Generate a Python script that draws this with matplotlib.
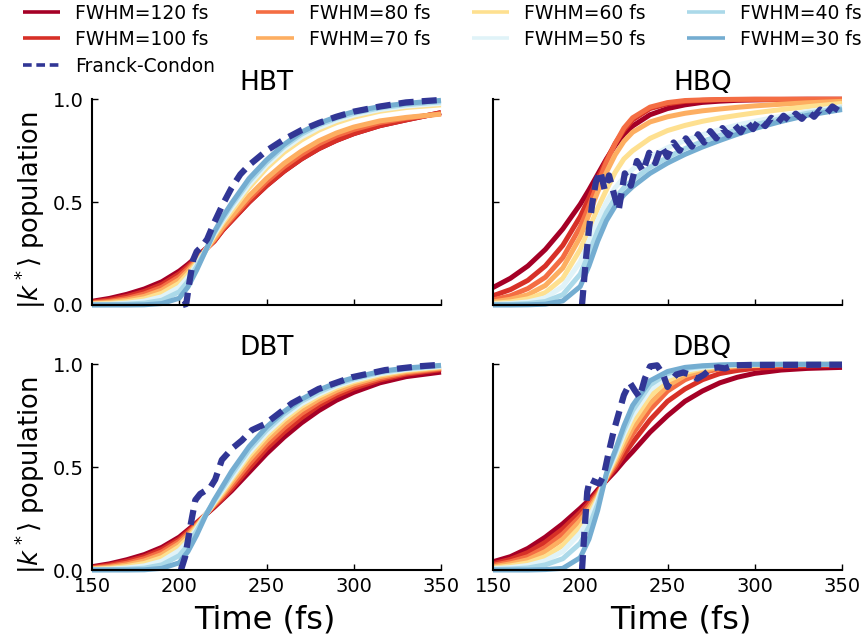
import matplotlib
matplotlib.use("Agg")
import matplotlib.pyplot as plt

# time grid (fs) shared by the FWHM curves
t = [150, 160, 170, 180, 190, 200, 205, 210, 215, 220, 225, 230,
     240, 250, 260, 270, 280, 290, 300, 315, 330, 350]

# ---- HBT ----
hbt_120 = [.018, .032, .052, .078, .113, .165, .198, .235, .272, .31, .365, .41, .5, .58, .65, .71, .76, .8, .833, .872, .9, .935]
hbt_100 = [.014, .025, .042, .066, .1, .152, .188, .227, .27, .31, .365, .41, .5, .58, .65, .71, .76, .8, .833, .872, .9, .935]
hbt_80 = [.01, .018, .032, .054, .086, .138, .177, .22, .268, .315, .372, .42, .515, .6, .672, .732, .783, .823, .853, .887, .908, .93]
hbt_70 = [.007, .013, .024, .042, .072, .123, .165, .213, .266, .32, .38, .43, .53, .615, .688, .748, .798, .836, .865, .895, .912, .928]
hbt_60 = [.005, .008, .016, .03, .057, .106, .151, .205, .265, .335, .4, .455, .57, .665, .742, .802, .85, .886, .913, .942, .96, .973]
hbt_50 = [.003, .004, .009, .019, .04, .087, .135, .197, .264, .343, .41, .47, .585, .68, .757, .817, .862, .897, .923, .95, .967, .98]
hbt_40 = [.001, .002, .004, .009, .023, .064, .115, .187, .263, .35, .42, .485, .6, .693, .77, .83, .875, .907, .932, .958, .974, .988]
hbt_30 = [0, 0, 0, .001, .007, .033, .088, .17, .262, .355, .43, .495, .615, .705, .78, .84, .883, .915, .94, .965, .98, .995]

# ---- HBQ ----
hbq_120 = [.085, .13, .19, .27, .37, .49, .56, .635, .71, .775, .83, .87, .925, .955, .973, .985, .991, .995, .997, .999, 1.0, 1.0]
hbq_100 = [.045, .075, .12, .19, .29, .43, .52, .615, .705, .785, .85, .9, .955, .978, .99, .995, .998, .999, 1.0, 1.0, 1.0, 1.0]
hbq_80 = [.025, .045, .08, .135, .23, .38, .48, .59, .695, .785, .86, .91, .962, .984, .994, .997, .999, 1.0, 1.0, 1.0, 1.0, 1.0]
hbq_70 = [.015, .028, .05, .095, .18, .33, .44, .55, .645, .73, .795, .84, .89, .915, .932, .944, .953, .961, .968, .976, .983, .99]
hbq_60 = [.008, .015, .03, .06, .13, .27, .37, .47, .56, .645, .71, .75, .81, .848, .873, .893, .909, .922, .934, .95, .964, .98]
hbq_50 = [.004, .007, .015, .035, .09, .21, .31, .41, .5, .57, .62, .66, .72, .765, .8, .828, .853, .875, .893, .918, .94, .965]
hbq_40 = [.002, .003, .007, .017, .05, .15, .25, .36, .45, .52, .57, .607, .67, .718, .76, .795, .825, .852, .876, .906, .932, .958]
hbq_30 = [0, 0, .001, .004, .02, .09, .19, .31, .41, .48, .535, .575, .64, .69, .732, .768, .8, .83, .858, .892, .922, .95]

# ---- DBT ----
dbt_120 = [.016, .03, .05, .075, .11, .16, .195, .23, .268, .305, .345, .385, .475, .565, .645, .715, .775, .825, .864, .91, .94, .962]
dbt_100 = [.012, .024, .042, .065, .1, .15, .187, .225, .268, .31, .35, .395, .495, .59, .67, .74, .8, .847, .883, .924, .952, .974]
dbt_80 = [.009, .018, .033, .055, .088, .14, .178, .22, .268, .315, .36, .41, .515, .61, .69, .76, .815, .86, .895, .932, .958, .979]
dbt_70 = [.006, .013, .025, .044, .075, .128, .168, .215, .268, .32, .37, .425, .535, .63, .71, .778, .83, .872, .905, .94, .964, .983]
dbt_60 = [.004, .008, .017, .032, .06, .113, .155, .208, .268, .325, .38, .44, .555, .65, .73, .795, .845, .885, .915, .948, .97, .987]
dbt_50 = [.002, .004, .01, .02, .043, .095, .14, .2, .267, .33, .39, .45, .57, .665, .743, .808, .855, .894, .922, .954, .974, .99]
dbt_40 = [.001, .002, .004, .009, .025, .07, .12, .19, .266, .335, .4, .465, .585, .68, .757, .82, .865, .902, .929, .96, .978, .993]
dbt_30 = [0, 0, 0, .001, .008, .035, .09, .17, .262, .34, .41, .48, .6, .695, .77, .83, .875, .91, .935, .965, .982, .995]

# ---- DBQ ----
dbq_120 = [.04, .065, .105, .16, .225, .3, .34, .39, .435, .48, .53, .575, .67, .75, .82, .87, .91, .937, .956, .972, .98, .985]
dbq_100 = [.03, .052, .085, .135, .2, .28, .325, .38, .44, .495, .56, .62, .73, .82, .88, .925, .955, .97, .98, .988, .992, .995]
dbq_80 = [.022, .04, .065, .11, .175, .26, .31, .37, .445, .51, .59, .66, .78, .87, .925, .96, .978, .988, .993, .997, .998, .999]
dbq_70 = [.015, .03, .05, .09, .15, .24, .295, .36, .45, .525, .61, .69, .81, .895, .945, .97, .985, .992, .995, .998, .999, 1.0]
dbq_60 = [.01, .02, .035, .065, .12, .21, .275, .35, .455, .54, .635, .72, .845, .92, .96, .98, .99, .995, .997, .999, 1.0, 1.0]
dbq_50 = [.006, .012, .022, .045, .09, .18, .25, .34, .46, .555, .66, .75, .875, .94, .97, .985, .993, .997, .998, .999, 1.0, 1.0]
dbq_40 = [.003, .005, .01, .025, .055, .13, .21, .32, .465, .57, .68, .775, .9, .955, .98, .99, .995, .998, .999, 1.0, 1.0, 1.0]
dbq_30 = [0, 0, 0, .002, .008, .06, .15, .29, .47, .58, .7, .8, .92, .965, .985, .993, .997, .999, 1.0, 1.0, 1.0, 1.0]

# ---- Franck-Condon ----
t_fc_hbt = [202, 204, 206, 208, 210, 213, 216, 220, 225, 230, 235, 240, 250, 260, 270, 280, 290, 300, 315, 330, 350]
fc_hbt = [0, .005, .12, .22, .26, .285, .32, .4, .49, .57, .635, .68, .75, .805, .85, .885, .915, .94, .965, .985, .997]

t_fc_hbq = [201, 203, 205, 207, 209, 211.5, 214, 216.5, 219, 222, 225.5, 229, 232.5, 236,
            239.5, 243, 246.5, 250, 253.5, 257, 260.5, 264, 267.5, 271, 274.5, 278, 281.5, 285,
            288.5, 292, 295.5, 299, 302.5, 306, 309.5, 313, 316.5, 320, 323.5, 327, 330.5, 334,
            337.5, 341, 344.5, 348, 350]
fc_hbq = [0, .2, .37, .5, .6, .65, .56, .63, .55, .46, .64, .58, .7, .65,
          .74, .69, .77, .72, .79, .75, .81, .77, .83, .79, .845, .81, .86, .825,
          .875, .84, .89, .855, .9, .87, .91, .885, .92, .895, .93, .905, .94, .915,
          .95, .93, .965, .945, .955]

t_fc_dbt = [201, 203.4, 206.3, 209.2, 212, 217.7, 220.6, 224.4, 230.2, 235.9, 241.6,
            249.2, 256.9, 264.5, 279.8, 298.9, 318, 337, 350]
fc_dbt = [0, .065, .21, .34, .37, .4, .44, .535, .59, .63, .68, .71, .76, .81, .88, .937, .972, .99, .998]

t_fc_dbq = [201, 202.5, 204, 205.5, 208, 211, 213.5, 216, 219, 222, 225, 228.5, 231.5,
            234, 237, 240, 244, 247.5, 250, 252, 255, 259, 263, 267, 271, 275, 279, 283, 288, 300, 350]
fc_dbq = [0, .2, .38, .44, .43, .42, .46, .56, .67, .76, .85, .91, .87, .84, .93, .99, .995,
          .95, .89, .92, .95, .96, .95, .93, .95, .98, .985, .98, .995, .997, .998]

fwhm = [120, 100, 80, 70, 60, 50, 40, 30]
colors = ['#a50026', '#d73027', '#f46d43', '#fdae61', '#fee090', '#e0f3f8', '#abd9e9', '#74add1']
fc_color = '#313695'

panels = [
    ("HBT", [hbt_120, hbt_100, hbt_80, hbt_70, hbt_60, hbt_50, hbt_40, hbt_30], t_fc_hbt, fc_hbt),
    ("HBQ", [hbq_120, hbq_100, hbq_80, hbq_70, hbq_60, hbq_50, hbq_40, hbq_30], t_fc_hbq, fc_hbq),
    ("DBT", [dbt_120, dbt_100, dbt_80, dbt_70, dbt_60, dbt_50, dbt_40, dbt_30], t_fc_dbt, fc_dbt),
    ("DBQ", [dbq_120, dbq_100, dbq_80, dbq_70, dbq_60, dbq_50, dbq_40, dbq_30], t_fc_dbq, fc_dbq),
]

fig = plt.figure(figsize=(8.67, 6.42), dpi=100)
W, H = 867.0, 642.0
boxes = [(92, 99.3, 441, 305), (493, 99.3, 842, 305),
         (92, 364.3, 441, 570), (493, 364.3, 842, 570)]

for i, (name, curves, tfc, vfc) in enumerate(panels):
    x0, y0, x1, y1 = boxes[i]
    ax = fig.add_axes([x0 / W, 1 - y1 / H, (x1 - x0) / W, (y1 - y0) / H])
    lines = []
    for w, c, y in zip(fwhm, colors, curves):
        ln, = ax.plot(t, y, color=c, lw=3.6, solid_capstyle='butt',
                      clip_on=False, label="FWHM=%d fs" % w)
        lines.append(ln)
    fcl, = ax.plot(tfc, vfc, color=fc_color, lw=4.5, ls='--', dashes=(2.4, 1.3),
                   clip_on=False, label="Franck-Condon")
    ax.set_xlim(150, 350)
    ax.set_ylim(0, 1.0)
    ax.set_xticks([150, 200, 250, 300, 350])
    ax.set_yticks([0, 0.5, 1.0])
    ax.set_yticklabels(["0.0", "0.5", "1.0"])
    for s in ['top', 'right']:
        ax.spines[s].set_visible(False)
    for s in ['left', 'bottom']:
        ax.spines[s].set_linewidth(1.5)
    ax.tick_params(direction='in', length=4, width=1, labelsize=14)
    ax.tick_params(axis='x', pad=5)
    ax.tick_params(axis='y', pad=6)
    tx = 0.5 if i % 2 == 0 else 0.6
    ax.set_title(name, fontsize=19, x=tx, pad=7)
    if i < 2:
        ax.tick_params(labelbottom=False)
    else:
        lx = 0.496 if i == 2 else 0.539
        ax.set_xlabel("Time (fs)", fontsize=23, labelpad=6, x=lx)
    if i % 2 == 1:
        ax.tick_params(labelleft=False)
    else:
        ax.set_ylabel(r"$|k^*\rangle$ population", fontsize=18.5, labelpad=3, y=0.46)
    if i == 0:
        leg_lines = lines
        leg_fc = fcl

handles = [leg_lines[0], leg_lines[1], leg_fc, leg_lines[2], leg_lines[3],
           leg_lines[4], leg_lines[5], leg_lines[6], leg_lines[7]]
leg = fig.legend(handles, [h.get_label() for h in handles], ncol=4, frameon=False,
                 fontsize=13.5, loc='upper left', bbox_to_anchor=(0.013, 1.012),
                 handlelength=2.0, columnspacing=2.2, labelspacing=0.4, handletextpad=0.8,
                 borderaxespad=0.2)
for h in leg.get_lines():
    h.set_linewidth(2.6)

fig.savefig("out.png", dpi=100)
